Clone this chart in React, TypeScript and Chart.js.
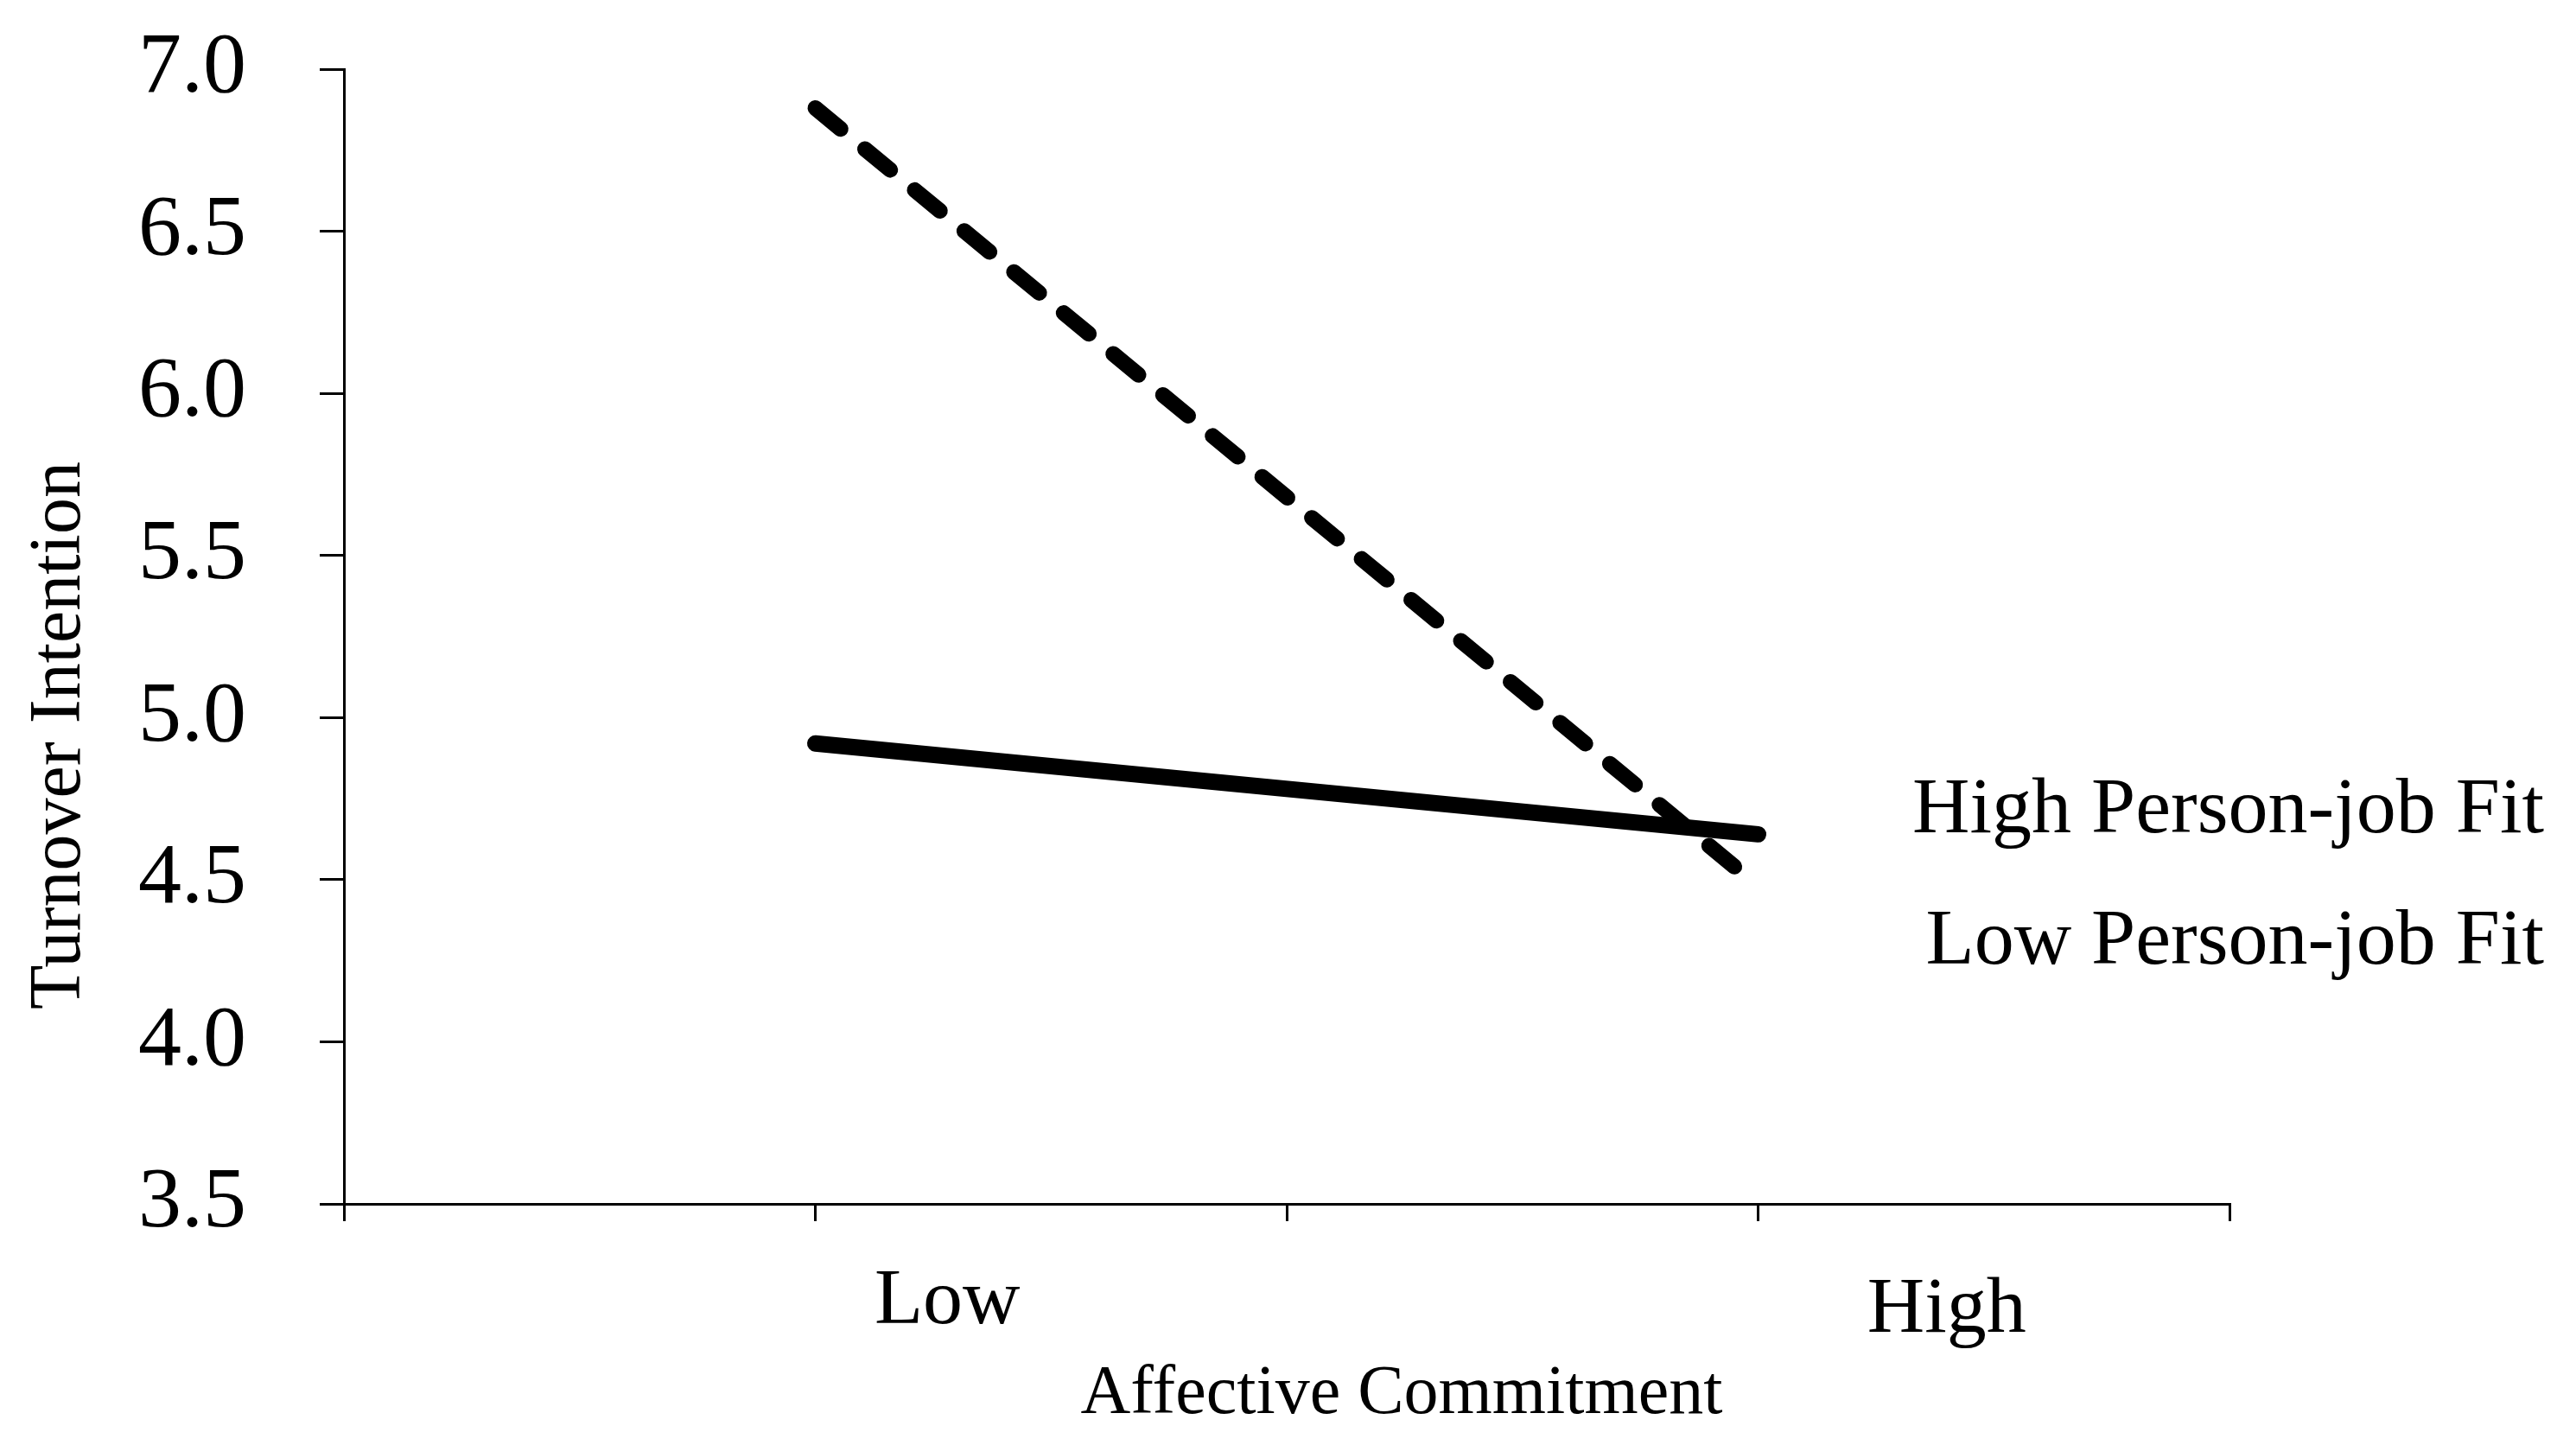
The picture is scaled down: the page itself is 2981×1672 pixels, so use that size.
import React, { useEffect, useRef } from "react";
import { Chart, registerables } from "chart.js";

Chart.register(...registerables);

// data
const seriesNames = ["High Person-job Fit", "Low Person-job Fit"];
const categoryLabels = ["Low", "High"];
const xPositions = [1, 3];
const dashedValues = [6.88, 4.48];
const solidValues = [4.92, 4.64];
const xTitle = "Affective Commitment";
const yTitle = "Turnover Intention";

const FONT = '"Liberation Serif", "Times New Roman", serif';

const textPlugin = {
  id: "textLabels",
  afterDraw(chart: any) {
    const { ctx, chartArea, scales } = chart;
    const xs = scales.x;
    ctx.save();
    ctx.fillStyle = "#000";
    ctx.textBaseline = "alphabetic";

    // category labels under the axis
    ctx.font = `92px ${FONT}`;
    ctx.textAlign = "center";
    ctx.fillText(categoryLabels[0], xs.getPixelForValue(1.28), chartArea.bottom + 138);
    ctx.fillText(categoryLabels[1], xs.getPixelForValue(3.4), chartArea.bottom + 148);

    // axis titles
    ctx.font = `80px ${FONT}`;
    ctx.fillText(xTitle, 1622, 1635);

    ctx.save();
    ctx.translate(92, 851);
    ctx.rotate(-Math.PI / 2);
    ctx.font = `84px ${FONT}`;
    ctx.fillText(yTitle, 0, 0);
    ctx.restore();

    // series names on the right
    ctx.font = `92px ${FONT}`;
    ctx.textAlign = "right";
    ctx.fillText(seriesNames[0], 2944, 963);
    ctx.fillText(seriesNames[1], 2944, 1115);
    ctx.restore();
  },
};

const App = () => {
  const chartRef = useRef<HTMLCanvasElement>(null);
  const chartInstance = useRef<any>(null);

  useEffect(() => {
    document.body.style.margin = "0";
    if (!chartRef.current) return;
    const ctx: any = chartRef.current.getContext("2d");
    if (chartInstance.current) chartInstance.current.destroy();

    chartInstance.current = new Chart(ctx, {
      type: "line",
      data: {
        datasets: [
          {
            label: seriesNames[0],
            data: xPositions.map((x, i) => ({ x, y: dashedValues[i] })),
            borderColor: "#000",
            borderWidth: 18,
            borderDash: [38, 36.5],
            borderCapStyle: "round",
            pointRadius: 0,
            fill: false,
            tension: 0,
            clip: false as any,
          },
          {
            label: seriesNames[1],
            data: xPositions.map((x, i) => ({ x, y: solidValues[i] })),
            borderColor: "#000",
            borderWidth: 19,
            borderCapStyle: "round",
            pointRadius: 0,
            fill: false,
            tension: 0,
            clip: false as any,
          },
        ],
      },
      options: {
        animation: false,
        responsive: false,
        devicePixelRatio: 1,
        layout: { padding: { top: 80, right: 401, left: 0, bottom: 0 } },
        plugins: {
          legend: { display: false },
          tooltip: { enabled: false },
        },
        scales: {
          x: {
            type: "linear",
            min: 0,
            max: 4,
            ticks: { stepSize: 1, callback: () => "" },
            grid: {
              drawOnChartArea: false,
              tickLength: 20,
              tickWidth: 3,
              lineWidth: 3,
              tickColor: "#000",
              color: "#000",
            },
            border: { display: true, color: "#000", width: 3 },
            afterFit: (s: any) => {
              s.height = 279;
              s.paddingLeft = 0;
              s.paddingRight = 0;
            },
          },
          y: {
            min: 3.5,
            max: 7,
            ticks: {
              stepSize: 0.5,
              callback: (v: any) => Number(v).toFixed(1),
              font: { family: FONT, size: 100 },
              color: "#000",
              padding: 85,
            },
            grid: {
              drawOnChartArea: false,
              tickLength: 28,
              tickWidth: 3,
              lineWidth: 3,
              tickColor: "#000",
              color: "#000",
            },
            border: { display: true, color: "#000", width: 3 },
            afterFit: (s: any) => {
              s.width = 398;
              s.paddingTop = 0;
              s.paddingBottom = 0;
            },
          },
        },
      },
      plugins: [textPlugin],
    });

    return () => {
      if (chartInstance.current) {
        chartInstance.current.destroy();
        chartInstance.current = null;
      }
    };
  }, []);

  return (
    <div style={{ width: 2981, height: 1672, background: "#fff" }}>
      <canvas ref={chartRef} width={2981} height={1672} style={{ display: "block" }} />
    </div>
  );
};

export default App;
